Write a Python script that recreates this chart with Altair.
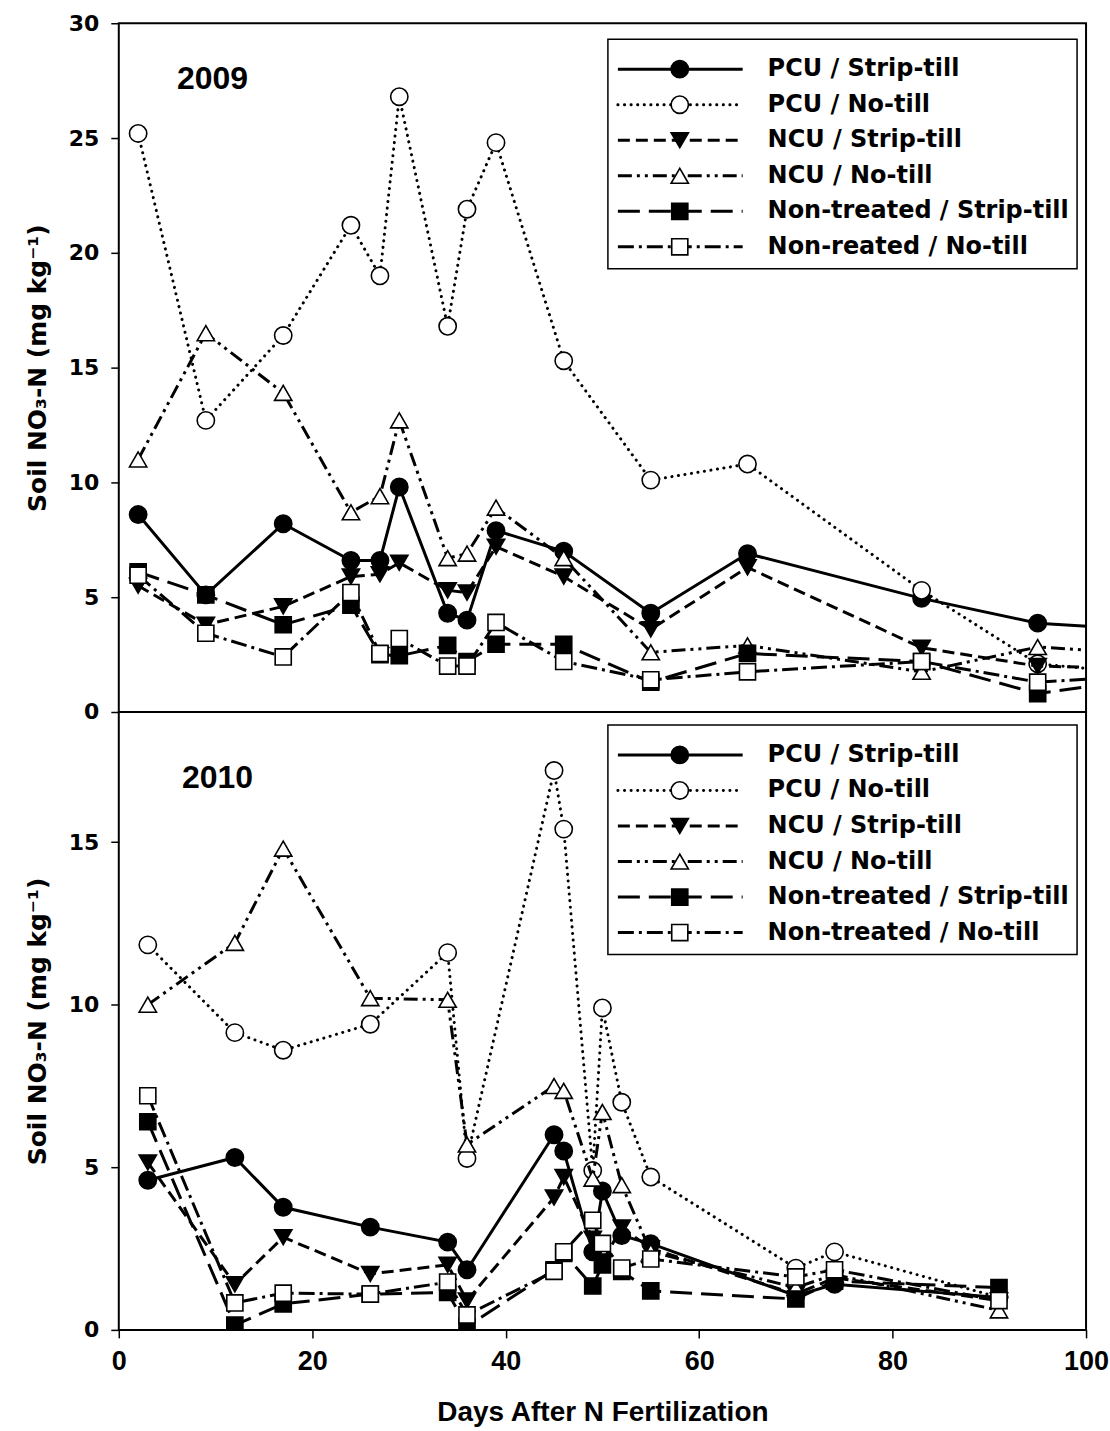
import altair as alt
import pandas as pd

# ---- sampling days ----
DAYS_2009 = [2, 9, 17, 24, 27, 29, 34, 36, 39, 46, 55, 65, 83, 95, 104]
DAYS_2010 = [3, 12, 17, 26, 34, 36, 45, 46, 49, 50, 52, 55, 70, 74, 91]

# ---- soil NO3-N (mg/kg), 2009 ----
PCU_STRIP_2009 = [8.6, 5.1, 8.2, 6.6, 6.6, 9.8, 4.3, 4.0, 7.9, 7.0, 4.3, 6.9, 4.95, 3.87, 3.64]
PCU_NOTILL_2009 = [25.2, 12.7, 16.4, 21.2, 19.0, 26.8, 16.8, 21.9, 24.8, 15.3, 10.1, 10.8, 5.3, 2.1, 1.74]
NCU_STRIP_2009 = [5.5, 3.8, 4.6, 5.9, 6.0, 6.5, 5.3, 5.2, 7.2, 5.9, 3.6, 6.3, 2.8, 2.0, 1.91]
NCU_NOTILL_2009 = [11.0, 16.5, 13.9, 8.7, 9.4, 12.7, 6.7, 6.9, 8.9, 6.7, 2.6, 2.9, 1.75, 2.83, 2.6]
NT_STRIP_2009 = [6.1, 5.1, 3.8, 4.65, 2.5, 2.45, 2.9, 2.2, 2.95, 2.95, 1.3, 2.55, 2.2, 0.8, 1.34]
NT_NOTILL_2009 = [5.96, 3.43, 2.4, 5.2, 2.55, 3.2, 2.0, 2.0, 3.9, 2.2, 1.4, 1.75, 2.2, 1.3, 1.53]

# ---- soil NO3-N (mg/kg), 2010 ----
PCU_STRIP_2010 = [4.6, 5.3, 3.77, 3.16, 2.7, 1.85, 6.0, 5.5, 2.4, 4.27, 2.9, 2.65, 1.05, 1.4, 1.0]
PCU_NOTILL_2010 = [11.84, 9.14, 8.6, 9.4, 11.6, 5.27, 17.2, 15.4, 4.9, 9.9, 7.0, 4.7, 1.9, 2.4, 1.0]
NCU_STRIP_2010 = [5.15, 1.4, 2.85, 1.72, 2.0, 0.9, 4.07, 4.7, 2.8, 2.1, 3.15, 2.5, 1.1, 1.6, 0.9]
NCU_NOTILL_2010 = [10.0, 11.9, 14.8, 10.2, 10.15, 5.7, 7.5, 7.35, 4.65, 6.7, 4.45, 2.4, 1.3, 1.7, 0.6]
NT_STRIP_2010 = [6.4, 0.15, 0.8, 1.1, 1.15, 0.1, 1.85, 2.35, 1.35, 2.0, 1.8, 1.2, 0.95, 1.5, 1.3]
NT_NOTILL_2010 = [7.2, 0.83, 1.13, 1.1, 1.47, 0.46, 1.8, 2.4, 3.37, 2.66, 1.9, 2.18, 1.63, 1.85, 0.9]

SERIES = ["PCU / Strip-till", "PCU / No-till", "NCU / Strip-till",
          "NCU / No-till", "Non-treated / Strip-till", "Non-treated / No-till"]

LEGEND_2009 = ["PCU / Strip-till", "PCU / No-till", "NCU / Strip-till",
               "NCU / No-till", "Non-treated / Strip-till", "Non-reated / No-till"]
LEGEND_2010 = ["PCU / Strip-till", "PCU / No-till", "NCU / Strip-till",
               "NCU / No-till", "Non-treated / Strip-till", "Non-treated / No-till"]

VALUES_2009 = [PCU_STRIP_2009, PCU_NOTILL_2009, NCU_STRIP_2009,
               NCU_NOTILL_2009, NT_STRIP_2009, NT_NOTILL_2009]
VALUES_2010 = [PCU_STRIP_2010, PCU_NOTILL_2010, NCU_STRIP_2010,
               NCU_NOTILL_2010, NT_STRIP_2010, NT_NOTILL_2010]

Y_TICKS_2009 = [0, 5, 10, 15, 20, 25, 30]
Y_TICKS_2010 = [0, 5, 10, 15]
X_TICKS = [0, 20, 40, 60, 80, 100]

# ---- line and symbol styles, one per treatment ----
STYLES = [
    dict(dash=None, cap="butt", shape="circle", fill="black", size=300),
    dict(dash=[0.1, 6.5], cap="round", shape="circle", fill="white", size=300),
    dict(dash=[12, 6], cap="butt", shape="triangle-down", fill="black", size=300),
    dict(dash=[14, 5, 3, 5, 3, 5], cap="butt", shape="triangle-up", fill="white", size=300),
    dict(dash=[22, 9], cap="butt", shape="square", fill="black", size=260),
    dict(dash=[16, 5, 3, 5], cap="butt", shape="square", fill="white", size=260),
]

PLOT_W = 969
FONT = "DejaVu Sans"
Y_TITLE = "Soil NO\u2083-N (mg kg\u207b\u00b9)"


def line_mark(style, **extra):
    kw = dict(color="black", strokeWidth=3, strokeCap=style["cap"], clip=True)
    if style["dash"] is not None:
        kw["strokeDash"] = style["dash"]
    kw.update(extra)
    return kw


def point_mark(style):
    return dict(shape=style["shape"], filled=True, fill=style["fill"],
                stroke="black", strokeWidth=1.6, size=style["size"],
                opacity=1, clip=True)


def panel(days, values, legend_labels, year, year_xy, height, y_max, y_ticks,
          legend_y0, show_x):
    rows = []
    for name, vals in zip(SERIES, values):
        for d, v in zip(days, vals):
            rows.append({"day": d, "value": v, "series": name})
    df = pd.DataFrame(rows)

    if show_x:
        x_axis = alt.Axis(values=X_TICKS, domain=False, grid=False, tickSize=8,
                          tickWidth=1.5, tickColor="black", labelFlush=False,
                          labelFont="Liberation Sans", labelFontSize=27,
                          labelFontWeight="bold", labelColor="black",
                          labelPadding=11, title="Days After N Fertilization",
                          titleFont="Liberation Sans", titleFontSize=28,
                          titleFontWeight="bold", titleColor="black",
                          titlePadding=24)
    else:
        x_axis = None

    X = alt.X("day:Q", scale=alt.Scale(domain=[0, 100], nice=False, zero=False),
              axis=x_axis)
    Y = alt.Y("value:Q", scale=alt.Scale(domain=[0, y_max], nice=False),
              axis=alt.Axis(values=y_ticks, domain=False, grid=False, tickSize=8,
                            tickWidth=1.5, tickColor="black", labelFont=FONT,
                            labelFontSize=22, labelFontWeight="bold",
                            labelColor="black", labelPadding=12, title=Y_TITLE,
                            titleFont=FONT, titleFontSize=25,
                            titleFontWeight="bold", titleColor="black",
                            titlePadding=18))

    layers = []
    for name, style in zip(SERIES, STYLES):
        base = alt.Chart(df).transform_filter(alt.datum.series == name)
        layers.append(base.mark_line(**line_mark(style)).encode(x=X, y=Y))
        layers.append(base.mark_point(**point_mark(style)).encode(x=X, y=Y))

    # legend box
    one = pd.DataFrame({"k": [0]})
    box_top = legend_y0 - 30
    box_bottom = legend_y0 + 5 * 35.6 + 22
    layers.append(alt.Chart(one).mark_rect(fill="white", stroke="black",
                                           strokeWidth=1.5).encode(
        x=alt.value(490), x2=alt.value(960),
        y=alt.value(box_top), y2=alt.value(box_bottom)))

    for i, (label, style) in enumerate(zip(legend_labels, STYLES)):
        ry = legend_y0 + i * 35.6
        kw = line_mark(style)
        kw.pop("clip")
        layers.append(alt.Chart(one).mark_rule(**kw).encode(
            x=alt.value(500), x2=alt.value(625), y=alt.value(ry)))
        pk = point_mark(style)
        pk.pop("clip")
        layers.append(alt.Chart(one).mark_point(**pk).encode(
            x=alt.value(562), y=alt.value(ry)))
        lab = pd.DataFrame({"label": [label]})
        layers.append(alt.Chart(lab).mark_text(
            font=FONT, fontSize=24, fontWeight="bold", color="black",
            align="left", baseline="middle").encode(
            x=alt.value(650), y=alt.value(ry), text="label:N"))

    yr = pd.DataFrame({"label": [year]})
    layers.append(alt.Chart(yr).mark_text(
        font="Liberation Sans", fontSize=32, fontWeight="bold", color="black",
        align="center", baseline="middle").encode(
        x=alt.value(year_xy[0]), y=alt.value(year_xy[1]), text="label:N"))

    return alt.layer(*layers).properties(width=PLOT_W, height=height)


top = panel(DAYS_2009, VALUES_2009, LEGEND_2009, "2009", (94, 56), 690, 30,
            Y_TICKS_2009, 46, False)
bottom = panel(DAYS_2010, VALUES_2010, LEGEND_2010, "2010", (99, 66), 619, 19,
               Y_TICKS_2010, 43, True)

chart = alt.vconcat(top, bottom, spacing=0, bounds="flush").properties(
    padding={"left": 24, "top": 10, "right": 0, "bottom": 0},
    background="white",
).configure_view(stroke="black", strokeWidth=2)

chart.save("out.html", embed_options={"renderer": "svg", "actions": False})
